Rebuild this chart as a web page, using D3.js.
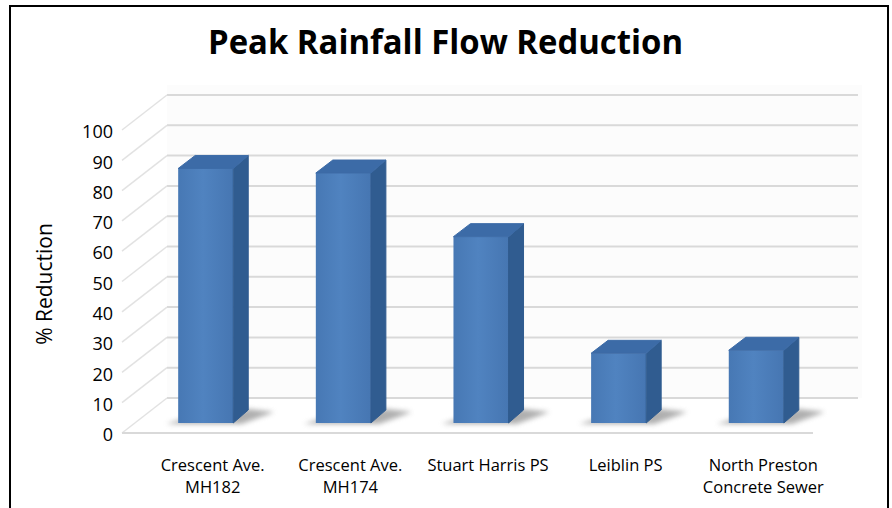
<!DOCTYPE html>
<html>
<head>
<meta charset="utf-8">
<script src="https://cdn.jsdelivr.net/npm/d3@7"></script>
<style>
  body { margin: 0; background: #fff; }
  svg { display: block; font-family: "Open Sans", sans-serif; }
</style>
</head>
<body>
<main></main>
<script>
// chart data
const categories = [
  "Crescent Ave.|MH182",
  "Crescent Ave.|MH174",
  "Stuart Harris PS",
  "Leiblin PS",
  "North Preston|Concrete Sewer"
];
const reduction = [84, 82.5, 61.5, 23, 24];
const yTicks = [0, 10, 20, 30, 40, 50, 60, 70, 80, 90, 100];

const w = 892;
const h = 508;

// floor / wall geometry (3D look)
const depth = [45, -35];
const floorX0 = 122;
const floorX1 = 813;
const barBase = 423;
const barDepth = [15, -13];

const svg = d3
  .select("main")
  .append("svg")
  .attr("width", w)
  .attr("height", h);

const defs = svg.append("defs");

const frontGrad = defs
  .append("linearGradient")
  .attr("id", "front")
  .attr("x1", "0%")
  .attr("x2", "100%");
frontGrad.append("stop").attr("offset", "0%").attr("stop-color", "#4778b4");
frontGrad.append("stop").attr("offset", "45%").attr("stop-color", "#5083c0");
frontGrad.append("stop").attr("offset", "100%").attr("stop-color", "#4676b2");

defs
  .append("filter")
  .attr("id", "blur")
  .attr("x", "-50%")
  .attr("y", "-50%")
  .attr("width", "200%")
  .attr("height", "200%")
  .append("feGaussianBlur")
  .attr("stdDeviation", 2.5);

// scales
const yScale = d3.scaleLinear().domain([0, 100]).range([433, 130]);
const hScale = d3.scaleLinear().domain([0, 100]).range([0, 303]);
const xScale = d3
  .scaleBand()
  .domain(categories)
  .range([130, 832])
  .paddingInner(0.6)
  .paddingOuter(0.35);
const bw = xScale.bandwidth();

// walls
svg
  .append("polygon")
  .attr(
    "points",
    [
      [floorX0 + depth[0], yScale(100) + depth[1] - 10],
      [floorX1 + depth[0] + 4, yScale(100) + depth[1] - 10],
      [floorX1 + depth[0] + 4, yScale(0) + depth[1]],
      [floorX0 + depth[0], yScale(0) + depth[1]]
    ].join(" ")
  )
  .attr("fill", "#fcfcfc");

// back wall grid
svg
  .selectAll(".back-grid")
  .data(yTicks)
  .enter()
  .append("line")
  .attr("class", "back-grid")
  .attr("x1", floorX0 + depth[0])
  .attr("x2", floorX1 + depth[0])
  .attr("y1", d => yScale(d) + depth[1])
  .attr("y2", d => yScale(d) + depth[1])
  .attr("stroke", "#d9d9d9")
  .attr("stroke-width", 2);

// side wall grid
svg
  .selectAll(".side-grid")
  .data(yTicks)
  .enter()
  .append("line")
  .attr("class", "side-grid")
  .attr("x1", floorX0)
  .attr("y1", d => yScale(d))
  .attr("x2", floorX0 + depth[0])
  .attr("y2", d => yScale(d) + depth[1])
  .attr("stroke", "#e2e2e2")
  .attr("stroke-width", 1.5);

// floor edge
svg
  .append("line")
  .attr("x1", floorX0)
  .attr("x2", floorX1)
  .attr("y1", yScale(0))
  .attr("y2", yScale(0))
  .attr("stroke", "#d9d9d9")
  .attr("stroke-width", 2);

// bars
const bars = svg
  .selectAll(".bar")
  .data(categories.map((c, i) => ({ c, v: reduction[i] })))
  .enter()
  .append("g")
  .attr("class", "bar");

// shadow at the base
bars
  .append("polygon")
  .attr("points", d => {
    const x = xScale(d.c);
    return [
      [x - 12, barBase + 1],
      [x + bw + 8, barBase + 1],
      [x + bw + barDepth[0] + 26, barBase - 11],
      [x + bw + barDepth[0], barBase - 14],
      [x + 4, barBase - 4]
    ].join(" ");
  })
  .attr("fill", "#7a7a7a")
  .attr("opacity", 0.6)
  .attr("filter", "url(#blur)");

bars
  .append("rect")
  .attr("x", d => xScale(d.c))
  .attr("y", d => barBase - hScale(d.v))
  .attr("width", bw)
  .attr("height", d => hScale(d.v))
  .attr("fill", "url(#front)");

bars
  .append("polygon")
  .attr("points", d => {
    const x = xScale(d.c) + bw;
    const top = barBase - hScale(d.v);
    return [
      [x, top],
      [x + barDepth[0], top + barDepth[1]],
      [x + barDepth[0], barBase + barDepth[1]],
      [x, barBase]
    ].join(" ");
  })
  .attr("fill", "#305c90")
  .attr("stroke", "#305c90")
  .attr("stroke-linejoin", "round");

bars
  .append("polygon")
  .attr("points", d => {
    const x = xScale(d.c);
    const top = barBase - hScale(d.v);
    return [
      [x, top],
      [x + barDepth[0] + 2, top + barDepth[1]],
      [x + bw + barDepth[0], top + barDepth[1]],
      [x + bw, top]
    ].join(" ");
  })
  .attr("fill", "#3c6ba7")
  .attr("stroke", "#3c6ba7")
  .attr("stroke-linejoin", "round");

// y axis labels
const yAxis = svg
  .append("g")
  .attr("transform", `translate(${floorX0}, 2)`)
  .call(
    d3
      .axisLeft(yScale)
      .tickValues(yTicks)
      .tickSize(0)
      .tickPadding(9)
  );
yAxis.select(".domain").remove();
yAxis
  .selectAll("text")
  .style("font-family", '"Open Sans", sans-serif')
  .style("font-size", "18px")
  .attr("fill", "#000");

// category labels
const catLabels = svg
  .selectAll(".cat")
  .data(categories)
  .enter()
  .append("text")
  .attr("class", "cat")
  .attr("text-anchor", "middle")
  .style("font-size", "16.5px")
  .attr("fill", "#000");
catLabels
  .selectAll("tspan")
  .data(d => d.split("|").map(t => ({ t, c: d })))
  .enter()
  .append("tspan")
  .attr("x", d => xScale(d.c) + bw / 2 + 7)
  .attr("y", (d, i) => 471 + i * 22)
  .text(d => d.t);

// y axis title
svg
  .append("text")
  .attr("transform", "translate(52, 284) rotate(-90)")
  .attr("text-anchor", "middle")
  .style("font-size", "21px")
  .attr("fill", "#000")
  .text("% Reduction");

// chart title
svg
  .append("text")
  .attr("x", 445.5)
  .attr("y", 54)
  .attr("text-anchor", "middle")
  .style("font-size", "34px")
  .style("font-weight", "bold")
  .attr("textLength", 475)
  .attr("lengthAdjust", "spacingAndGlyphs")
  .attr("fill", "#000")
  .text("Peak Rainfall Flow Reduction");

// frame
svg
  .append("rect")
  .attr("x", 10)
  .attr("y", 6)
  .attr("width", 878)
  .attr("height", 530)
  .attr("fill", "none")
  .attr("stroke", "#000")
  .attr("stroke-width", 2);
</script>
</body>
</html>
